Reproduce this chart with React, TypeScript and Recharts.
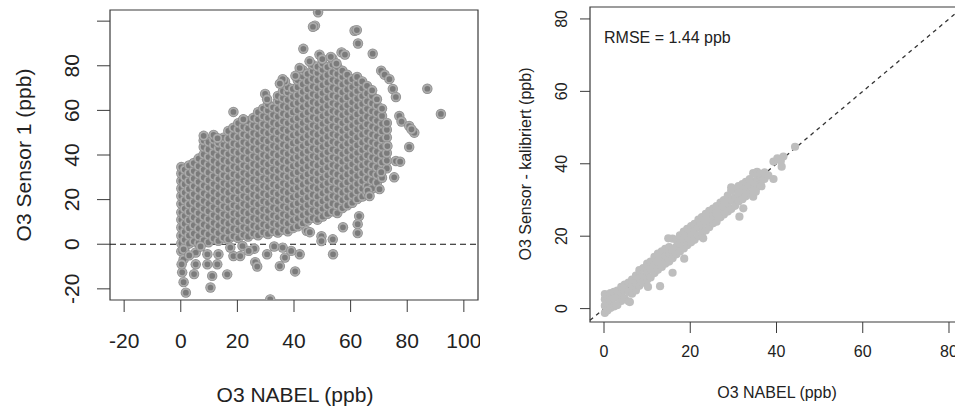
import React from 'react';
import { ScatterChart, Scatter, XAxis, YAxis, ReferenceLine, ReferenceArea } from 'recharts';

// ---------- Left panel: raw sensor vs NABEL ----------
const leftXTicks = [-20, 0, 20, 40, 60, 80, 100];
const leftYTicks = [-20, 0, 20, 40, 60, 80, 100];
const leftYHiddenLabels = [100];

// dense cloud, column by column: [NABEL ppb, sensor ppb values]
const sensor1Columns: [number, number[]][] = [
  [0.2, [-3.2, 0.4, 3.8, 7.5, 11.0, 14.3, 18.1, 21.6, 25.0, 28.4, 31.7, 34.6]],
  [1.4, [-1.5, 2.0, 5.6, 9.2, 12.7, 16.0, 19.8, 23.2, 26.9, 30.1, 33.5]],
  [2.9, [0.3, 3.9, 7.2, 10.8, 14.5, 17.9, 21.4, 24.8, 28.3, 31.9, 35.3]],
  [4.6, [1.2, 4.8, 8.5, 12.0, 15.4, 19.0, 22.5, 26.0, 29.4, 32.8, 36.4]],
  [6.3, [0.5, 3.6, 7.0, 10.6, 14.0, 17.6, 21.0, 24.5, 28.0, 31.5, 35.0, 38.4]],
  [8.1, [1.8, 5.3, 8.8, 12.4, 15.9, 19.4, 22.8, 26.3, 29.9, 33.4, 36.8, 40.3, 43.6, 46.5]],
  [9.8, [0.9, 4.4, 7.9, 11.3, 14.8, 18.2, 21.7, 25.3, 28.7, 32.2, 35.6, 39.1, 42.5, 45.8]],
  [11.6, [2.6, 6.1, 9.6, 13.1, 16.6, 20.1, 23.5, 27.0, 30.5, 34.0, 37.4, 40.9, 44.3, 47.0]],
  [13.3, [1.5, 5.0, 8.4, 11.9, 15.3, 18.8, 22.3, 25.7, 29.2, 32.7, 36.1, 39.6, 43.0, 45.5]],
  [15.1, [3.0, 6.6, 10.1, 13.5, 17.0, 20.5, 24.0, 27.4, 30.9, 34.3, 37.8, 41.3, 44.7, 47.8]],
  [16.8, [2.2, 5.7, 9.2, 12.7, 16.2, 19.6, 23.1, 26.6, 30.0, 33.5, 37.0, 40.4, 43.9, 47.3, 50.8]],
  [18.6, [3.6, 7.1, 10.6, 14.0, 17.5, 21.0, 24.5, 27.9, 31.4, 34.8, 38.3, 41.8, 45.2, 48.7, 52.2]],
  [20.3, [2.8, 6.3, 9.8, 13.3, 16.7, 20.2, 23.7, 27.1, 30.6, 34.1, 37.5, 41.0, 44.5, 47.9, 51.4, 54.3]],
  [22.1, [4.2, 7.7, 11.1, 14.6, 18.1, 21.6, 25.0, 28.5, 32.0, 35.4, 38.9, 42.3, 45.8, 49.3, 52.7, 55.8]],
  [23.8, [3.4, 6.9, 10.3, 13.8, 17.3, 20.7, 24.2, 27.7, 31.1, 34.6, 38.1, 41.5, 45.0, 48.5, 51.9, 55.2]],
  [25.6, [4.8, 8.3, 11.8, 15.2, 18.7, 22.2, 25.6, 29.1, 32.6, 36.0, 39.5, 43.0, 46.4, 49.9, 53.3, 56.6]],
  [27.3, [4.0, 7.5, 11.0, 14.4, 17.9, 21.4, 24.8, 28.3, 31.8, 35.2, 38.7, 42.1, 45.6, 49.1, 52.5, 56.0, 59.2]],
  [29.1, [5.4, 8.9, 12.4, 15.8, 19.3, 22.8, 26.2, 29.7, 33.2, 36.6, 40.1, 43.6, 47.0, 50.5, 53.9, 57.4, 60.8]],
  [30.8, [4.6, 8.1, 11.6, 15.0, 18.5, 22.0, 25.4, 28.9, 32.4, 35.8, 39.3, 42.8, 46.2, 49.7, 53.1, 56.6, 60.0, 62.8]],
  [32.6, [6.0, 9.5, 12.9, 16.4, 19.9, 23.3, 26.8, 30.3, 33.7, 37.2, 40.7, 44.1, 47.6, 51.0, 54.5, 58.0, 61.4]],
  [34.3, [5.2, 8.7, 12.1, 15.6, 19.1, 22.5, 26.0, 29.5, 32.9, 36.4, 39.8, 43.3, 46.8, 50.2, 53.7, 57.2, 60.6, 64.0, 66.5]],
  [36.1, [6.6, 10.1, 13.5, 17.0, 20.5, 23.9, 27.4, 30.9, 34.3, 37.8, 41.3, 44.7, 48.2, 51.6, 55.1, 58.6, 62.0, 65.5, 68.6]],
  [37.8, [5.8, 9.3, 12.7, 16.2, 19.7, 23.1, 26.6, 30.1, 33.5, 37.0, 40.5, 43.9, 47.4, 50.8, 54.3, 57.8, 61.2, 64.7, 68.1, 70.4]],
  [39.6, [7.2, 10.7, 14.2, 17.6, 21.1, 24.6, 28.0, 31.5, 35.0, 38.4, 41.9, 45.3, 48.8, 52.3, 55.7, 59.2, 62.7, 66.1, 69.6]],
  [41.3, [8.0, 11.5, 15.0, 18.4, 21.9, 25.4, 28.8, 32.3, 35.7, 39.2, 42.7, 46.1, 49.6, 53.1, 56.5, 60.0, 63.4, 66.9, 70.4, 73.6]],
  [43.1, [9.4, 12.9, 16.3, 19.8, 23.3, 26.7, 30.2, 33.7, 37.1, 40.6, 44.0, 47.5, 51.0, 54.4, 57.9, 61.4, 64.8, 68.3, 71.7, 75.2, 78.0]],
  [44.8, [10.6, 14.1, 17.6, 21.0, 24.5, 28.0, 31.4, 34.9, 38.4, 41.8, 45.3, 48.7, 52.2, 55.7, 59.1, 62.6, 66.1, 69.5, 73.0, 76.4]],
  [46.6, [11.8, 15.3, 18.8, 22.2, 25.7, 29.2, 32.6, 36.1, 39.5, 43.0, 46.5, 49.9, 53.4, 56.9, 60.3, 63.8, 67.3, 70.7, 74.2, 77.6, 80.4]],
  [48.3, [11.0, 14.5, 18.0, 21.4, 24.9, 28.4, 31.8, 35.3, 38.8, 42.2, 45.7, 49.1, 52.6, 56.1, 59.5, 63.0, 66.5, 69.9, 73.4, 76.8, 79.6]],
  [50.1, [12.4, 15.9, 19.3, 22.8, 26.3, 29.7, 33.2, 36.7, 40.1, 43.6, 47.0, 50.5, 54.0, 57.4, 60.9, 64.4, 67.8, 71.3, 74.7, 78.2, 81.0]],
  [51.8, [13.6, 17.1, 20.5, 24.0, 27.5, 30.9, 34.4, 37.9, 41.3, 44.8, 48.2, 51.7, 55.2, 58.6, 62.1, 65.6, 69.0, 72.5, 75.9, 79.4]],
  [53.6, [14.8, 18.3, 21.7, 25.2, 28.7, 32.1, 35.6, 39.0, 42.5, 46.0, 49.4, 52.9, 56.4, 59.8, 63.3, 66.7, 70.2, 73.7, 77.1, 80.6, 83.2]],
  [55.3, [14.0, 17.5, 20.9, 24.4, 27.9, 31.3, 34.8, 38.3, 41.7, 45.2, 48.7, 52.1, 55.6, 59.0, 62.5, 66.0, 69.4, 72.9, 76.3, 79.5]],
  [57.1, [16.2, 19.7, 23.1, 26.6, 30.1, 33.5, 37.0, 40.4, 43.9, 47.4, 50.8, 54.3, 57.8, 61.2, 64.7, 68.1, 71.6, 75.0, 77.8]],
  [58.8, [17.4, 20.9, 24.3, 27.8, 31.3, 34.7, 38.2, 41.6, 45.1, 48.6, 52.0, 55.5, 59.0, 62.4, 65.9, 69.3, 72.8, 76.0]],
  [60.6, [18.6, 22.1, 25.5, 29.0, 32.5, 35.9, 39.4, 42.8, 46.3, 49.8, 53.2, 56.7, 60.2, 63.6, 67.1, 70.5, 74.0]],
  [62.3, [20.2, 23.7, 27.1, 30.6, 34.1, 37.5, 41.0, 44.4, 47.9, 51.4, 54.8, 58.3, 61.8, 65.2, 68.7, 72.1, 75.0]],
  [64.1, [21.4, 24.9, 28.3, 31.8, 35.3, 38.7, 42.2, 45.6, 49.1, 52.6, 56.0, 59.5, 62.9, 66.4, 69.9, 73.0]],
  [65.8, [22.6, 26.1, 29.5, 33.0, 36.5, 39.9, 43.4, 46.8, 50.3, 53.8, 57.2, 60.7, 64.1, 67.6, 71.0]],
  [67.6, [25.0, 28.5, 31.9, 35.4, 38.9, 42.3, 45.8, 49.2, 52.7, 56.2, 59.6, 63.1, 66.5, 69.0]],
  [69.3, [27.6, 31.1, 34.5, 38.0, 41.5, 44.9, 48.4, 51.8, 55.3, 58.8, 62.2, 65.0]],
  [71.1, [29.8, 33.3, 36.7, 40.2, 43.7, 47.1, 50.6, 54.0, 57.5, 60.8]],
  [72.8, [34.0, 37.5, 40.9, 44.4, 47.9, 51.3, 54.4]],
];

// scattered points around the edges of the cloud: [NABEL, sensor]
const sensor1Outliers: [number, number][] = [
  [48.5, 104], [47.4, 98], [46.7, 97.5], [43.3, 87.6], [42, 79], [61.4, 95.7], [62.2, 96],
  [62.6, 90], [67.8, 85.4], [49, 85], [50, 83], [56.8, 86], [58, 85], [70.8, 77.8], [72, 76],
  [73.7, 74], [74.9, 69.6], [76, 66], [87.1, 69.7], [91.9, 58.4], [77.2, 57.5], [78, 55],
  [80.7, 53], [82.5, 50], [81.5, 51.5], [80.7, 43.6], [73, 44], [76, 37.3], [77.5, 37],
  [75.4, 30], [70.8, 32.3], [70.2, 24.7], [66, 24], [66.7, 21.6], [63, 12.6], [62.5, 9],
  [62.5, 5], [57.3, 7.6], [53.8, -4.5], [53.7, 2.2], [49.7, 3.6], [49.7, 1.4], [44.5, 6],
  [36.8, 73], [29.8, 67.4], [30.5, 65], [18.6, 59.3], [22.1, 56], [8.1, 48.6], [11.6, 49],
  [13, 47.5], [36, 74], [35, 72], [45.5, 82], [53, 84], [55, 81], [40.5, 75.5],
  [1, -2.3], [1, -6.8], [0.5, -12.6], [1, -17], [1.8, -21.7], [0.3, -9], [5.3, -3.7],
  [5.3, -9], [4.7, -13.4], [9.4, -9], [11.1, -14.2], [10.5, -19.4], [12.9, -9], [16.4, -13.5],
  [13.3, -4.5], [9.4, -4.5], [18.6, -5.3], [21, -5.3], [26.3, -8], [27, -10], [30.5, -4.5],
  [35, -9.8], [36.8, -6], [40.4, -12.2], [42, -4.5], [31.6, -24.7], [17.5, -1.5], [21.8, -0.8],
  [26, -2], [36, -1.5], [39, -3], [7, -1], [3, -5], [24, -3], [33, -1], [45.6, 5.4],
];

// ---------- Right panel: calibrated sensor vs NABEL ----------
const rightXTicks = [0, 20, 40, 60, 80];
const rightYTicks = [0, 20, 40, 60, 80];
const rmseLabel = 'RMSE = 1.44 ppb';

const calibratedColumns: [number, number[]][] = [
  [0.2, [-1.2, 0.8, 2.6, 4.0]],
  [0.8, [-0.5, 1.5, 3.4]],
  [1.5, [0.2, 2.4, 4.3]],
  [2.3, [0.6, 2.9, 4.6]],
  [3.1, [1.0, 3.2, 5.0]],
  [4.0, [2.1, 4.3, 6.0]],
  [4.8, [2.8, 5.1, 6.6]],
  [5.7, [2.0, 4.6, 7.2]],
  [6.5, [4.1, 6.2, 8.0]],
  [7.4, [5.0, 7.3, 9.1]],
  [8.2, [6.3, 8.4, 10.6]],
  [9.1, [7.2, 9.0, 11.2]],
  [10.0, [8.0, 10.3, 12.4]],
  [10.8, [8.6, 11.0, 13.0]],
  [11.7, [9.8, 12.1, 14.3]],
  [12.5, [10.7, 13.0, 15.2]],
  [13.4, [11.5, 13.8, 15.8]],
  [14.2, [12.4, 14.5, 16.5]],
  [15.1, [13.0, 15.3, 17.0]],
  [15.9, [13.9, 16.2, 19.3]],
  [16.8, [15.0, 17.1, 19.0]],
  [17.6, [15.8, 18.0, 20.2]],
  [18.5, [16.6, 19.0, 21.3]],
  [19.3, [17.5, 19.8, 22.0]],
  [20.2, [18.3, 20.6, 22.8]],
  [21.0, [19.0, 21.5, 23.4]],
  [21.9, [20.0, 22.4, 24.6]],
  [22.7, [20.7, 23.0, 25.3]],
  [23.6, [21.6, 24.0, 26.2]],
  [24.4, [22.5, 24.8, 27.0]],
  [25.3, [23.6, 25.6, 27.6]],
  [26.1, [24.0, 26.4, 28.3]],
  [27.0, [25.2, 27.5, 29.3]],
  [27.8, [26.0, 28.2, 30.0]],
  [28.7, [26.8, 29.0, 31.2]],
  [29.5, [27.5, 30.0, 32.6]],
  [30.4, [28.4, 30.8, 33.0]],
  [31.2, [29.6, 31.6, 33.8]],
  [32.1, [30.2, 32.5, 34.4]],
  [32.9, [31.0, 33.4, 35.0]],
  [33.8, [31.8, 34.0, 35.8]],
  [34.6, [32.7, 35.0, 37.4]],
  [35.5, [33.5, 35.6, 37.8]],
  [36.3, [34.4, 36.5, 37.2]],
  [37.2, [35.8, 37.6]],
  [38.1, [36.8]],
];

const calibratedOutliers: [number, number][] = [
  [13, 6.2], [15.9, 9.9], [18.6, 13.8], [10.2, 6], [6, 1.8], [2.9, 0.9], [23, 19.4],
  [31.4, 25.4], [32.3, 27.7], [39.3, 35.8], [41.2, 39.2], [44.3, 44.7], [39.3, 40.6],
  [40.2, 41.5], [41.0, 40.8], [41.6, 42], [34.6, 30.9], [35.2, 32.3], [14.9, 19.4],
  [26.5, 25.2], [29.5, 33.5], [36.5, 33.8],
];

// ---------- table building ----------
const leftData = [
  ...sensor1Columns.flatMap(([x, ys]) => ys.map((y) => ({ x, y }))),
  ...sensor1Outliers.map(([x, y]) => ({ x, y })),
];
const rightData = [
  ...calibratedColumns.flatMap(([x, ys]) => ys.map((y) => ({ x, y }))),
  ...calibratedOutliers.map(([x, y]) => ({ x, y })),
];

const FONT = '"Liberation Sans", Arial, Helvetica, sans-serif';
const INK = '#222';
const AXIS = '#3a3a3a';

const LeftDot = (p: any) => (
  <g>
    <circle cx={p.cx} cy={p.cy} r={5.2} fill="#8c8c8c" />
    <circle cx={p.cx} cy={p.cy} r={3.7} fill="#7b7b7b" stroke="#acacac" strokeWidth={1.7} />
  </g>
);
const RightDot = (p: any) => <circle cx={p.cx} cy={p.cy} r={4.1} fill="#bebebe" />;

const LeftXTick = (p: any) => (
  <text x={p.x} y={348} textAnchor="middle" fontSize={21} fontFamily={FONT} fill={INK}>
    {p.payload.value}
  </text>
);
const LeftYTick = (p: any) =>
  leftYHiddenLabels.includes(p.payload.value) ? (
    <g />
  ) : (
    <text
      x={79}
      y={p.y}
      transform={`rotate(-90 79 ${p.y})`}
      textAnchor="middle"
      fontSize={21}
      fontFamily={FONT}
      fill={INK}
    >
      {p.payload.value}
    </text>
  );
const RightXTick = (p: any) => (
  <text x={p.x} y={357} textAnchor="middle" fontSize={16} fontFamily={FONT} fill={INK}>
    {p.payload.value}
  </text>
);
const RightYTick = (p: any) => (
  <text
    x={87}
    y={p.y}
    transform={`rotate(-90 87 ${p.y})`}
    textAnchor="middle"
    fontSize={16}
    fontFamily={FONT}
    fill={INK}
  >
    {p.payload.value}
  </text>
);

export default function App() {
  return (
    <div
      style={{
        position: 'absolute',
        left: 0,
        top: 0,
        width: 955,
        height: 410,
        overflow: 'hidden',
        background: '#fff',
        fontFamily: FONT,
      }}
    >
      <div style={{ position: 'absolute', left: 0, top: 0 }}>
        <ScatterChart width={480} height={410} margin={{ top: 10, right: 2, bottom: 50, left: 50 }}>
          <XAxis
            type="number"
            dataKey="x"
            domain={[-25, 105]}
            ticks={leftXTicks}
            allowDataOverflow
            height={60}
            axisLine={false}
            tickSize={12}
            tickLine={{ stroke: AXIS }}
            tick={LeftXTick}
            label={{
              content: () => (
                <text x={295} y={402} textAnchor="middle" fontSize={21} fontFamily={FONT} fill={INK}>
                  O3 NABEL (ppb)
                </text>
              ),
            }}
          />
          <YAxis
            type="number"
            dataKey="y"
            domain={[-25, 105]}
            ticks={leftYTicks}
            allowDataOverflow
            width={60}
            axisLine={false}
            tickSize={13}
            tickLine={{ stroke: AXIS }}
            tick={LeftYTick}
            label={{
              content: () => (
                <text
                  x={31}
                  y={155}
                  transform="rotate(-90 31 155)"
                  textAnchor="middle"
                  fontSize={21}
                  fontFamily={FONT}
                  fill={INK}
                >
                  O3 Sensor 1 (ppb)
                </text>
              ),
            }}
          />
          <Scatter data={leftData} shape={LeftDot} isAnimationActive={false} />
          <ReferenceLine y={0} stroke="#111" strokeDasharray="6 4" strokeWidth={1.1} />
          <ReferenceArea x1={-25} x2={105} y1={-25} y2={105} fill="none" stroke={AXIS} strokeWidth={1.2} />
        </ScatterChart>
      </div>
      <div style={{ position: 'absolute', left: 480, top: 0 }}>
        <ScatterChart width={490} height={410} margin={{ top: 7, right: 7, bottom: 28, left: 50 }}>
          <XAxis
            type="number"
            dataKey="x"
            domain={[-3.25, 83.25]}
            ticks={rightXTicks}
            allowDataOverflow
            height={60}
            axisLine={false}
            tickSize={11}
            tickLine={{ stroke: AXIS }}
            tick={RightXTick}
            label={{
              content: () => (
                <text x={297} y={398} textAnchor="middle" fontSize={16} fontFamily={FONT} fill={INK}>
                  O3 NABEL (ppb)
                </text>
              ),
            }}
          />
          <YAxis
            type="number"
            dataKey="y"
            domain={[-3.7, 83.3]}
            ticks={rightYTicks}
            allowDataOverflow
            width={60}
            axisLine={false}
            tickSize={10}
            tickLine={{ stroke: AXIS }}
            tick={RightYTick}
            label={{
              content: () => (
                <g>
                  <text
                    x={51}
                    y={164}
                    transform="rotate(-90 51 164)"
                    textAnchor="middle"
                    fontSize={16}
                    fontFamily={FONT}
                    fill={INK}
                  >
                    O3 Sensor - kalibriert (ppb)
                  </text>
                  <text x={124} y={43} fontSize={16} fontFamily={FONT} fill={INK}>
                    {rmseLabel}
                  </text>
                </g>
              ),
            }}
          />
          <Scatter data={rightData} shape={RightDot} isAnimationActive={false} />
          <ReferenceLine
            segment={[
              { x: -3.25, y: -3.25 },
              { x: 83.25, y: 83.25 },
            ]}
            stroke="#333"
            strokeDasharray="4 4"
            strokeWidth={1.3}
          />
          <ReferenceArea
            x1={-3.25}
            x2={83.25}
            y1={-3.7}
            y2={83.3}
            fill="none"
            stroke={AXIS}
            strokeWidth={1.2}
          />
        </ScatterChart>
      </div>
    </div>
  );
}
